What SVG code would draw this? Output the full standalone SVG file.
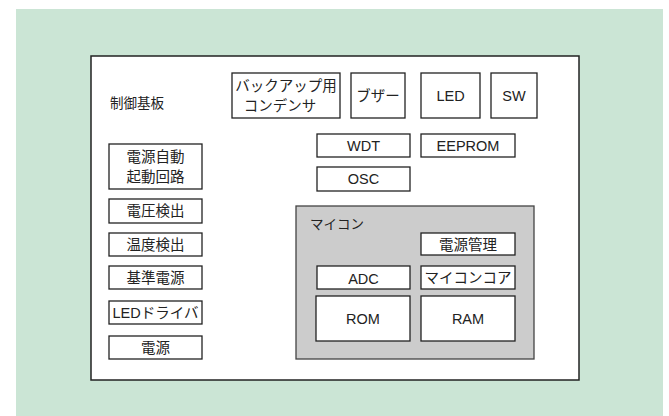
<svg xmlns="http://www.w3.org/2000/svg" width="669" height="416" viewBox="0 0 669 416">
<style>
.b{fill:#fff;stroke:#222;stroke-width:1.3}
.t{font-family:"Liberation Sans","Noto Sans CJK JP",sans-serif;font-size:14.5px;fill:#222;text-anchor:middle}
.l{font-family:"Liberation Sans","Noto Sans CJK JP",sans-serif;font-size:13.5px;fill:#222}
</style>
<rect x="16" y="9" width="647" height="407" fill="#cbe5d5"/>
<g id="board"><rect x="91" y="56" width="488" height="324" fill="#fff" stroke="#222" stroke-width="1.5"/><text class="l" x="110" y="108">制御基板</text></g>
<g id="backup"><rect class="b" x="232" y="73" width="108" height="45"/><text class="t" x="286" y="91">バックアップ用</text><text class="t" x="280" y="111">コンデンサ</text></g>
<g id="buzzer"><rect class="b" x="351" y="73" width="54" height="45"/><text class="t" x="378" y="101">ブザー</text></g>
<g id="led"><rect class="b" x="421" y="73" width="59" height="45"/><text class="t" x="450.5" y="101">LED</text></g>
<g id="sw"><rect class="b" x="491" y="73" width="46" height="45"/><text class="t" x="514" y="101">SW</text></g>
<g id="autostart"><rect class="b" x="109" y="144" width="93" height="45"/><text class="t" x="155.5" y="162">電源自動</text><text class="t" x="155.5" y="182">起動回路</text></g>
<g id="vdet"><rect class="b" x="109" y="199" width="93" height="24"/><text class="t" x="155.5" y="216">電圧検出</text></g>
<g id="tdet"><rect class="b" x="109" y="233" width="93" height="23"/><text class="t" x="155.5" y="250">温度検出</text></g>
<g id="vref"><rect class="b" x="109" y="266" width="93" height="23"/><text class="t" x="155.5" y="283">基準電源</text></g>
<g id="leddrv"><rect class="b" x="109" y="301" width="93" height="23"/><text class="t" x="155.5" y="318">LEDドライバ</text></g>
<g id="power"><rect class="b" x="109" y="336" width="93" height="23"/><text class="t" x="155.5" y="353">電源</text></g>
<g id="wdt"><rect class="b" x="317" y="134" width="93" height="23"/><text class="t" x="363.5" y="151">WDT</text></g>
<g id="eeprom"><rect class="b" x="421" y="134" width="94" height="23"/><text class="t" x="468" y="151">EEPROM</text></g>
<g id="osc"><rect class="b" x="317" y="167" width="93" height="24"/><text class="t" x="363.5" y="184">OSC</text></g>
<g id="mcu"><rect x="296" y="206" width="238" height="153" fill="#cccccc" stroke="#444" stroke-width="1.3"/><text class="l" x="310" y="229">マイコン</text></g>
<g id="pm"><rect class="b" x="421" y="233" width="94" height="22"/><text class="t" x="468" y="250">電源管理</text></g>
<g id="adc"><rect class="b" x="317" y="266" width="93" height="23"/><text class="t" x="363.5" y="284">ADC</text></g>
<g id="core"><rect class="b" x="421" y="266" width="94" height="23"/><text class="t" x="468" y="283">マイコンコア</text></g>
<g id="rom"><rect class="b" x="316" y="296" width="94" height="45"/><text class="t" x="363" y="324">ROM</text></g>
<g id="ram"><rect class="b" x="421" y="296" width="94" height="45"/><text class="t" x="468" y="324">RAM</text></g>
<g id="connectors"/>
</svg>
